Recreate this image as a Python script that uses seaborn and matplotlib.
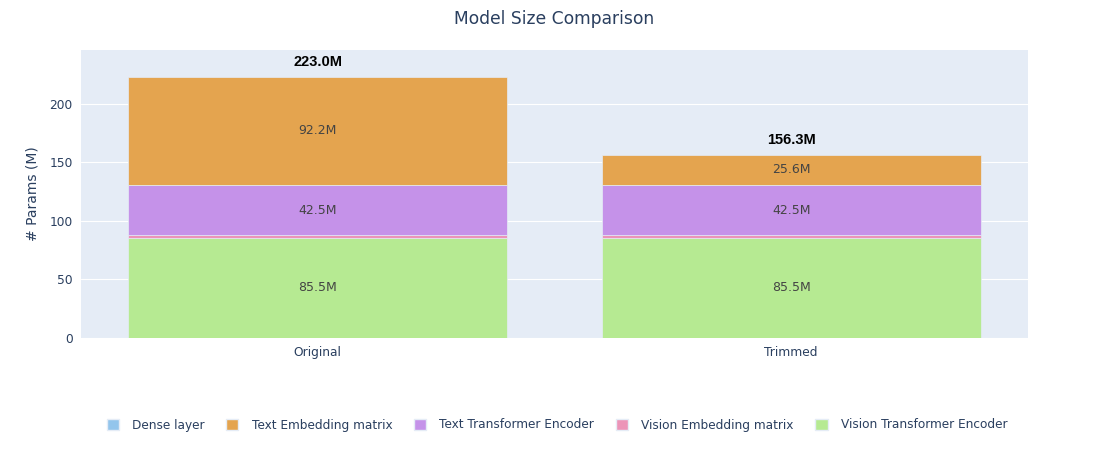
import pandas as pd
import numpy as np
import seaborn as sns
import matplotlib.pyplot as plt
from matplotlib.patches import Patch

# data (M params)
models = ["Original", "Trimmed"]
vision_encoder = [85.53, 85.53]
vision_embedding = [2.31, 2.31]
text_encoder = [42.52, 42.52]
dense_layer = [0.39, 0.39]
text_embedding = [92.24, 25.56]

# stacking order bottom -> top
layers = [
    ("Vision Transformer Encoder", vision_encoder, "#b6ea92"),
    ("Vision Embedding matrix", vision_embedding, "#ec94b8"),
    ("Text Transformer Encoder", text_encoder, "#c592e9"),
    ("Dense layer", dense_layer, "#93c5ec"),
    ("Text Embedding matrix", text_embedding, "#e4a44f"),
]
legend_order = ["Dense layer", "Text Embedding matrix", "Text Transformer Encoder",
                "Vision Embedding matrix", "Vision Transformer Encoder"]

sns.set_style("darkgrid", {"axes.facecolor": "#e5ecf6", "grid.color": "white"})
plt.rcParams["font.family"] = ["DejaVu Sans"]

fig = plt.figure(figsize=(11.08, 4.5), dpi=100)
ax = fig.add_axes([81 / 1108, 1 - 338 / 450, (1028 - 81) / 1108, (338 - 50) / 450])

bottom = np.zeros(len(models))
colors = {}
for name, vals, col in layers:
    df = pd.DataFrame({"model": models, "params": vals})
    sns.barplot(data=df, x="model", y="params", color=col, bottom=bottom,
                width=0.8, edgecolor="#e5ecf6", linewidth=0.5, ax=ax, saturation=1)
    for i, v in enumerate(vals):
        if v > 5:
            ax.text(i, bottom[i] + v / 2, f"{v:.1f}M", ha="center", va="center",
                    fontsize=9, color="#444444")
    bottom = bottom + np.array(vals)
    colors[name] = col

for i, tot in enumerate(bottom):
    ax.annotate(f"{tot:.1f}M", (i, tot), xytext=(0, 6), textcoords="offset points",
                ha="center", va="bottom", fontsize=10.5, fontweight="bold",
                family="Liberation Sans", color="black")

ax.set_xlim(-0.5, 1.5)
ax.set_ylim(0, 246)
ax.set_yticks([0, 50, 100, 150, 200])
ax.grid(axis="x", visible=False)
ax.set_axisbelow(True)
for s in ax.spines.values():
    s.set_visible(False)
ax.tick_params(axis="both", length=0, labelsize=8.8, colors="#2a3f5f", pad=6)
ax.set_xlabel("")
ax.set_ylabel("# Params (M)", fontsize=10, color="#2a3f5f", labelpad=7)

fig.suptitle("Model Size Comparison", x=0.5, y=1 - 19 / 450, va="center",
             fontsize=12.3, color="#2a3f5f")

handles = [Patch(facecolor=colors[n], edgecolor="#e5ecf6", label=n) for n in legend_order]
fig.legend(handles=handles, loc="center", bbox_to_anchor=(557 / 1108, 1 - 425 / 450),
           ncol=5, frameon=False, fontsize=8.7, handlelength=1.0, handleheight=1.1,
           columnspacing=1.8, handletextpad=1.1, labelcolor="#2a3f5f")

fig.savefig("out.png", dpi=100)
